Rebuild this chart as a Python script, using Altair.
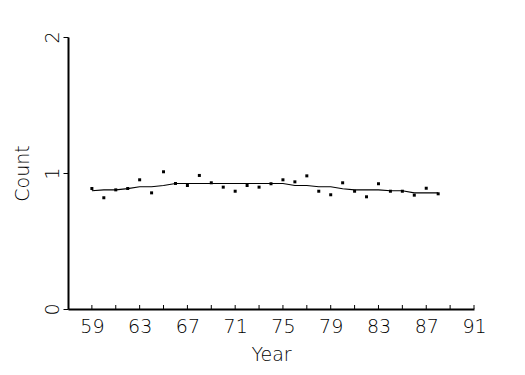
import altair as alt
import pandas as pd

years = list(range(59, 89))
counts = [0.886, 0.818, 0.876, 0.886, 0.950, 0.854, 1.009, 0.923, 0.908, 0.982,
          0.928, 0.896, 0.866, 0.908, 0.896, 0.921, 0.950, 0.935, 0.979, 0.866,
          0.840, 0.928, 0.866, 0.825, 0.921, 0.866, 0.866, 0.837, 0.888, 0.847]
smooth = [0.869, 0.876, 0.876, 0.885, 0.899, 0.899, 0.908, 0.923, 0.923, 0.923,
          0.923, 0.923, 0.923, 0.923, 0.923, 0.923, 0.923, 0.908, 0.908, 0.899,
          0.899, 0.884, 0.876, 0.876, 0.876, 0.869, 0.869, 0.854, 0.854, 0.854]
x_label_values = [59, 63, 67, 71, 75, 79, 83, 87, 91]
x_tick_values = list(range(59, 92, 2))
y_label_values = [0, 1, 2]

FONT = "DejaVu Sans"

df = pd.DataFrame({"Year": years, "Count": counts, "Smooth": smooth})
xt = pd.DataFrame({"t": x_tick_values})

xscale = alt.Scale(domain=[57, 91], nice=False, zero=False)
yscale = alt.Scale(domain=[0, 2], nice=False)

xaxis = alt.Axis(values=x_label_values, ticks=False, grid=False, domainColor="black",
                 domainWidth=2, labelFont=FONT, labelFontSize=19, labelFontWeight=200,
                 labelColor="black", labelBaseline="alphabetic", labelPadding=23,
                 labelOverlap=False, labelFlush=False,
                 title="Year", titleFont=FONT, titleFontSize=19, titleFontWeight=200,
                 titleColor="black", titleBaseline="alphabetic", titleY=51)
yaxis = alt.Axis(values=y_label_values, labelExpr="toString(round(datum.value))",
                 ticks=True, tickSize=5, tickColor="black",
                 tickWidth=1, grid=False, domainColor="black", domainWidth=2,
                 labelFont=FONT, labelFontSize=19, labelFontWeight=200, labelColor="black",
                 labelAngle=-90, labelAlign="center", labelBaseline="bottom", labelPadding=1,
                 labelOverlap=False, labelFlush=False,
                 title="Count", titleFont=FONT, titleFontSize=19, titleFontWeight=200,
                 titleColor="black", titleX=-46, titleBaseline="middle")

base = alt.Chart(df)

pts = base.mark_square(size=9, color="black", opacity=1).encode(
    x=alt.X("Year:Q", scale=xscale, axis=xaxis),
    y=alt.Y("Count:Q", scale=yscale, axis=yaxis),
)
line = base.mark_line(color="black", strokeWidth=1.1).encode(
    x=alt.X("Year:Q", scale=xscale),
    y=alt.Y("Smooth:Q", scale=yscale),
)
ticks = alt.Chart(xt).mark_rule(color="black", strokeWidth=1).encode(
    x=alt.X("t:Q", scale=xscale),
    y=alt.value(272),
    y2=alt.value(268),
)

chart = alt.layer(pts, line, ticks).resolve_axis(y="shared").properties(
    width=406, height=272,
    autosize=alt.AutoSizeParams(type="none"),
    padding={"left": 68, "top": 37, "right": 51, "bottom": 66},
    background="white",
).configure_view(stroke=None)

chart.save("out.html", embed_options={"renderer": "svg", "actions": False})
